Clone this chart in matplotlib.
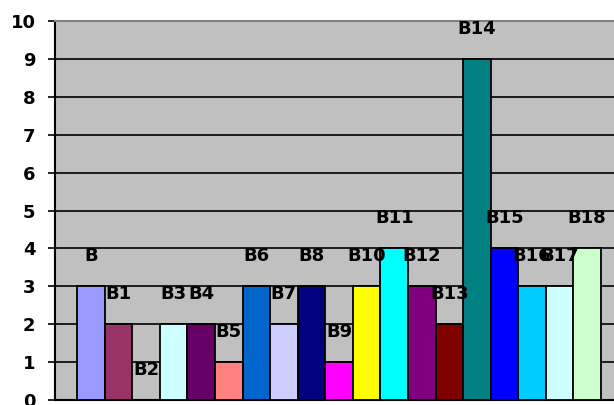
import matplotlib.pyplot as plt

# datos
etiquetas = ["B", "B1", "B2", "B3", "B4", "B5", "B6", "B7", "B8", "B9",
             "B10", "B11", "B12", "B13", "B14", "B15", "B16", "B17", "B18"]
valores = [3, 2, 0, 2, 2, 1, 3, 2, 3, 1, 3, 4, 3, 2, 9, 4, 3, 3, 4]
colores = ["#9999FF", "#993366", "#FFFFCC", "#CCFFFF", "#660066", "#FF8080",
           "#0066CC", "#CCCCFF", "#000080", "#FF00FF", "#FFFF00", "#00FFFF",
           "#800080", "#800000", "#008080", "#0000FF", "#00CCFF", "#CCFFFF",
           "#CCFFCC"]
yticks = list(range(0, 11))

W, H = 614, 405
fig = plt.figure(figsize=(W / 100, H / 100), dpi=100)
ax = fig.add_axes([55 / W, 5 / H, (614 - 55) / W, 379 / H])
ax.set_facecolor("#C0C0C0")

x = list(range(len(valores)))
ax.bar(x, valores, width=1.0, color=colores, edgecolor="black", linewidth=1.3, zorder=3)

for xi, v, lab in zip(x, valores, etiquetas):
    ax.annotate(lab, (xi, v), xytext=(0, 30), textcoords="offset pixels",
                ha="center", va="center", fontsize=13, fontweight="bold", zorder=4)

ax.set_ylim(0, 10)
ax.set_xlim(-1.3, 18.97)
ax.set_yticks(yticks)
ax.set_yticklabels([str(t) for t in yticks], fontsize=13, fontweight="bold")
ax.set_xticks([])
ax.grid(axis="y", color="black", linewidth=1.2, zorder=1)
ax.tick_params(axis="y", length=5, width=1.2, pad=9)

ax.spines["right"].set_visible(False)
ax.spines["top"].set_color("#808080")
ax.spines["top"].set_linewidth(1.5)
ax.spines["left"].set_linewidth(1.5)
ax.spines["bottom"].set_linewidth(1.5)

fig.savefig("out.png", dpi=100)
